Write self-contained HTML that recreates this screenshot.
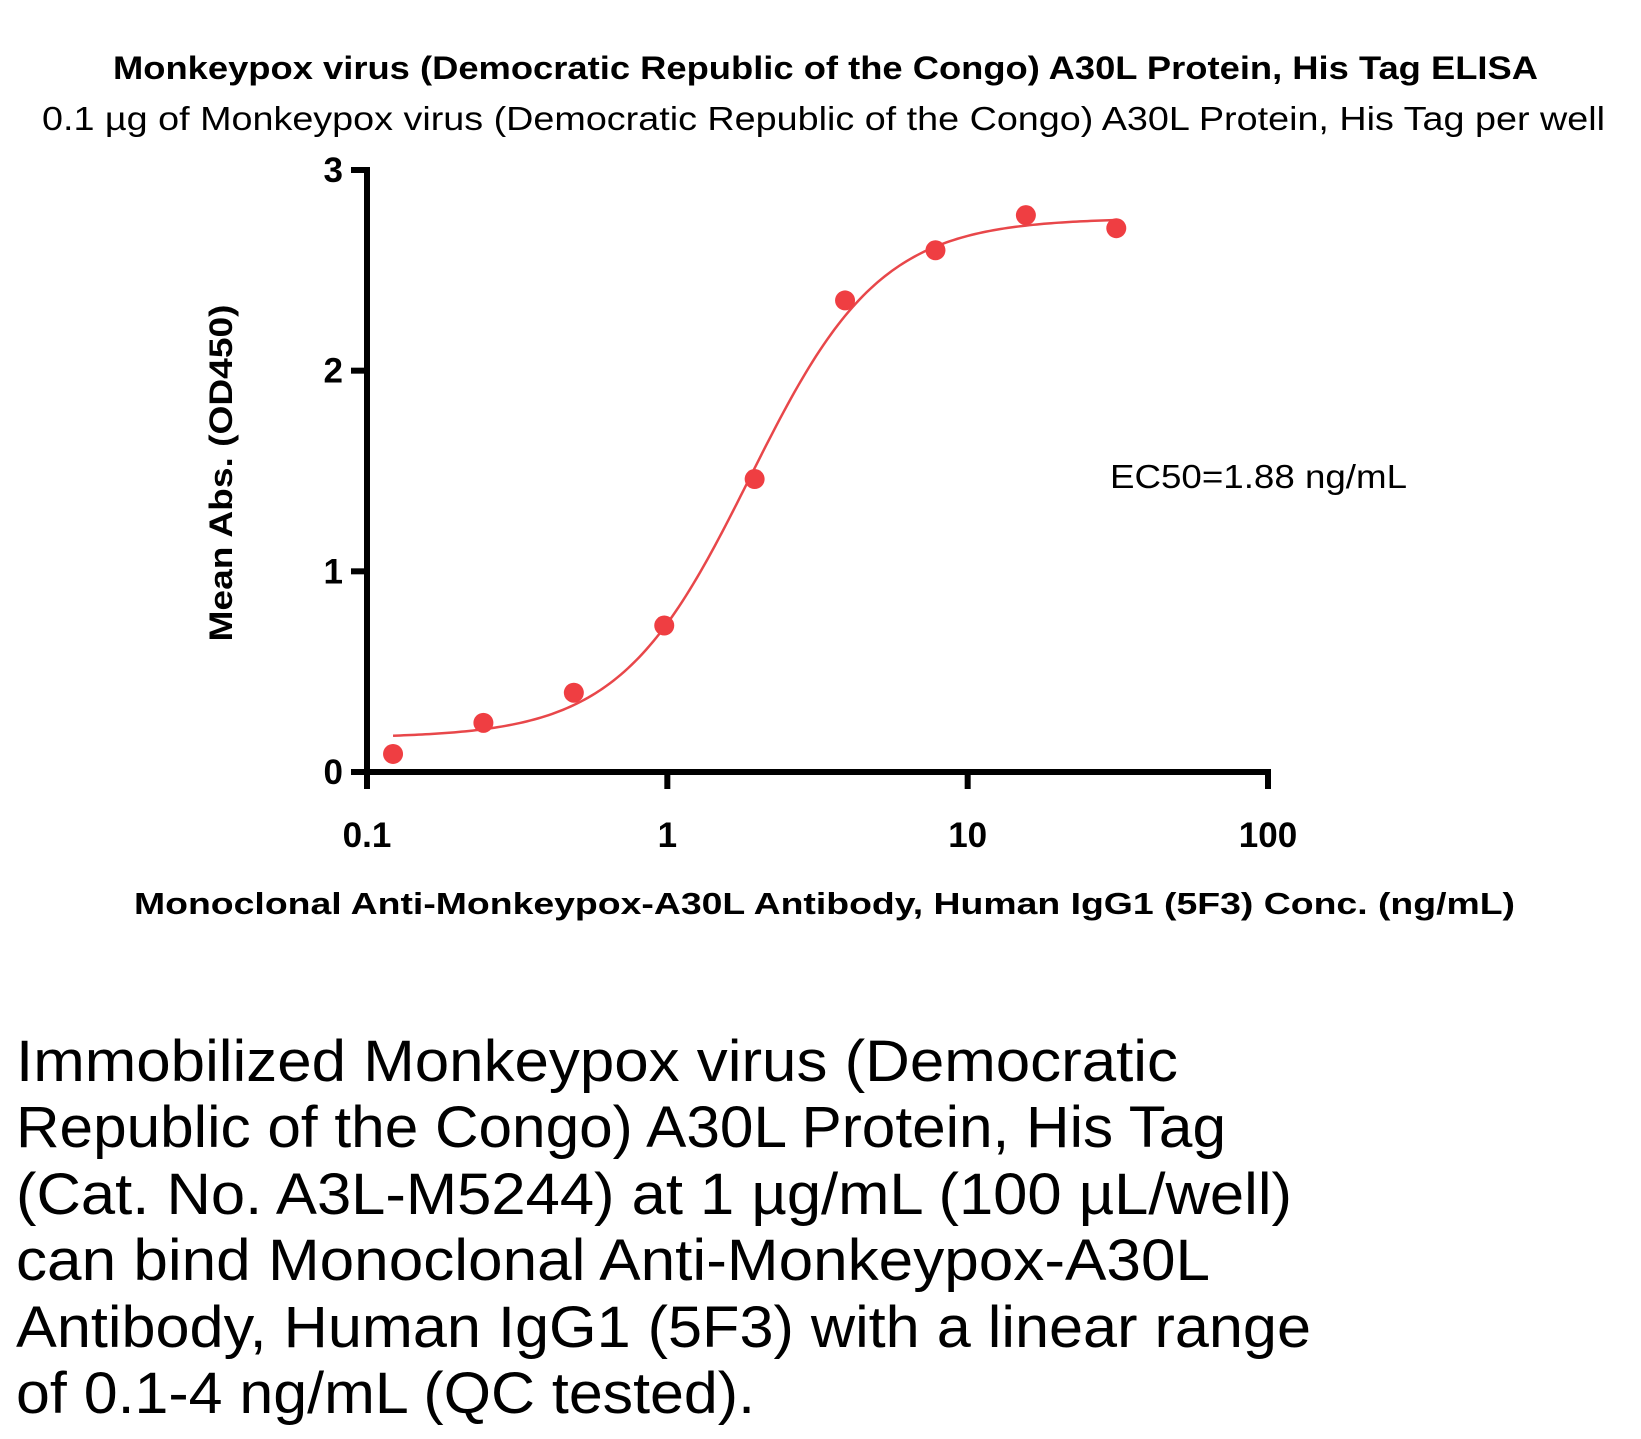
<!DOCTYPE html>
<html><head><meta charset="utf-8"><style>
html,body{margin:0;padding:0;background:#fff;}
svg{display:block;}
text{font-family:"Liberation Sans",sans-serif;fill:#000;}
</style></head><body>
<svg id="chart" width="1641" height="1439" viewBox="0 0 1641 1439" xmlns="http://www.w3.org/2000/svg">
<text x="113" y="79" font-size="32" font-weight="bold" textLength="1425" lengthAdjust="spacingAndGlyphs">Monkeypox virus (Democratic Republic of the Congo) A30L Protein, His Tag ELISA</text>
<text x="42" y="130" font-size="33" textLength="1563" lengthAdjust="spacingAndGlyphs">0.1 µg of Monkeypox virus (Democratic Republic of the Congo) A30L Protein, His Tag per well</text>
<text transform="translate(232,473) rotate(-90)" text-anchor="middle" font-size="32" font-weight="bold" textLength="337" lengthAdjust="spacingAndGlyphs">Mean Abs. (OD450)</text>
<text x="134" y="914" font-size="31" font-weight="bold" textLength="1381" lengthAdjust="spacingAndGlyphs">Monoclonal Anti-Monkeypox-A30L Antibody, Human IgG1 (5F3) Conc. (ng/mL)</text>
<text x="1110" y="488" font-size="33" textLength="297" lengthAdjust="spacingAndGlyphs">EC50=1.88 ng/mL</text>
<g id="axes"></g>
<g id="marks"></g>
<g font-size="58">
<text x="16" y="1081" textLength="1162" lengthAdjust="spacingAndGlyphs">Immobilized Monkeypox virus (Democratic</text>
<text x="16" y="1147" textLength="1210" lengthAdjust="spacingAndGlyphs">Republic of the Congo) A30L Protein, His Tag</text>
<text x="16" y="1214" textLength="1276" lengthAdjust="spacingAndGlyphs">(Cat. No. A3L-M5244) at 1 µg/mL (100 µL/well)</text>
<text x="16" y="1280" textLength="1194" lengthAdjust="spacingAndGlyphs">can bind Monoclonal Anti-Monkeypox-A30L</text>
<text x="16" y="1347" textLength="1295" lengthAdjust="spacingAndGlyphs">Antibody, Human IgG1 (5F3) with a linear range</text>
<text x="16" y="1413" textLength="739" lengthAdjust="spacingAndGlyphs">of 0.1-4 ng/mL (QC tested).</text>
</g>
</svg>
<script>
const concentrations = [0.1221, 0.2441, 0.4883, 0.9766, 1.953, 3.906, 7.8125, 15.625, 31.25];
const absorbances = [0.09, 0.245, 0.395, 0.73, 1.46, 2.35, 2.60, 2.775, 2.71];
const fitParams = [0.17, 2.76, 1.88, 2.0]; // bottom, top, EC50, hill
const xTicks = [0.1, 1, 10, 100];
const xTickLabels = ["0.1", "1", "10", "100"];
const yTicks = [0, 1, 2, 3];
const yTickLabels = ["0", "1", "2", "3"];

const NS = "http://www.w3.org/2000/svg";
const X0 = 367, X1 = 1268, Y0 = 772, Y1 = 170;
function xs(v){ return X0 + (Math.log10(v) - Math.log10(0.1)) / 3 * (X1 - X0); }
function ys(v){ return Y0 - v / 3 * (Y0 - Y1); }
function mk(tag, attrs, parent){ const e = document.createElementNS(NS, tag); for (const k in attrs) e.setAttribute(k, attrs[k]); parent.appendChild(e); return e; }
const axes = document.getElementById("axes"), marks = document.getElementById("marks");

const ya = mk("line", {x1:X0, y1:Y1-3, x2:X0, y2:Y0+3, stroke:"#000", "stroke-width":6}, axes);


const xa = mk("line", {x1:X0-3, y1:Y0, x2:X1+3, y2:Y0, stroke:"#000", "stroke-width":6}, axes);



yTicks.forEach((t, i) => {
  const l = mk("line", {x1:X0-16, y1:ys(t), x2:X0, y2:ys(t), stroke:"#000", "stroke-width":6}, axes);
  
  
  const tx = mk("text", {x:X0-24, y:ys(t)+12, "text-anchor":"end", "font-size":35, "font-weight":"bold"}, axes);
  tx.textContent = yTickLabels[i];
  
  
});
xTicks.forEach((t, i) => {
  const l = mk("line", {x1:xs(t), y1:Y0, x2:xs(t), y2:Y0+17, stroke:"#000", "stroke-width":6}, axes);
  
  
  const tx = mk("text", {x:xs(t), y:847, "text-anchor":"middle", "font-size":35, "font-weight":"bold"}, axes);
  tx.textContent = xTickLabels[i];
  
  
});

function fit(x){ const [b, t, ec, h] = fitParams; return b + (t - b) / (1 + Math.pow(ec / x, h)); }
let d = "";
const lo = Math.log10(concentrations[0]), hi = Math.log10(concentrations[concentrations.length-1]);
for (let i = 0; i <= 200; i++){
  const x = Math.pow(10, lo + (hi - lo) * i / 200);
  d += (i ? "L" : "M") + xs(x).toFixed(2) + "," + ys(fit(x)).toFixed(2);
}
const curve = mk("path", {d:d, fill:"none", stroke:"#e8474a", "stroke-width":2.5}, marks);



concentrations.forEach((c, i) => {
  const p = mk("circle", {cx:xs(c), cy:ys(absorbances[i]), r:10, fill:"#ef3e42"}, marks);
  
  
});
</script>
</body></html>
